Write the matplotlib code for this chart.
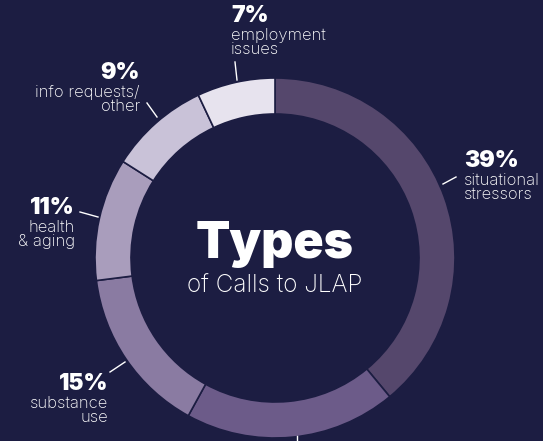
import matplotlib.pyplot as plt

# ----------------------------------------------------------
# Data
# ----------------------------------------------------------
shares = [39, 19, 15, 11, 9, 7]
pct_labels = ["39%", "19%", "15%", "11%", "9%", "7%"]
desc_labels = ["situational\nstressors", "", "substance\nuse",
               "health\n& aging", "info requests/\nother", "employment\nissues"]
colors = ["#55476c", "#6c5b89", "#8a7ba2", "#a99dbc", "#c9c2d8", "#e7e3ee"]

BG = "#1c1d42"
W, H = 543, 441

fig = plt.figure(figsize=(W / 100, H / 100), dpi=100, facecolor=BG)
ax = fig.add_axes([0, 0, 1, 1])
ax.set_facecolor(BG)

cx, cy, r_out, ring = 275, H - 258, 180, 36

ax.pie(shares, colors=colors, startangle=90, counterclock=False,
       center=(cx, cy), radius=r_out, frame=True,
       wedgeprops=dict(width=ring, edgecolor=BG, linewidth=1.2))
ax.set_xlim(0, W)
ax.set_ylim(0, H)
ax.set_aspect("equal")
ax.axis("off")


def Y(y):
    return H - y


# label positions (x, top y, alignment) and leader lines
label_pos = {
    0: (464, 150, "left"),
    2: (108, 373, "right"),
    3: (75, 197, "right"),
    4: (140, 62, "right"),
    5: (231, 5, "left"),
}
leaders = {
    0: [(443, 184), (456, 177)],
    1: [(297, 436), (297, 445)],
    2: [(110, 372), (125, 362)],
    3: [(80, 212), (98, 217)],
    4: [(147, 103), (157, 117)],
    5: [(235, 62), (237, 80)],
}

for i, (x, y, ha) in label_pos.items():
    ax.text(x, Y(y), pct_labels[i], ha=ha, va="top", color="white",
            fontsize=16.5, fontweight="black", family="Inter")
    ax.text(x, Y(y + 23), desc_labels[i], ha=ha, va="top", color="white",
            fontsize=12, fontweight="light", family="Inter", linespacing=0.88)

for i, pts in leaders.items():
    (x0, y0), (x1, y1) = pts
    ax.plot([x0, x1], [Y(y0), Y(y1)], color="white", lw=1)

ax.text(cx, Y(244), "Types", ha="center", va="center", color="white",
        fontsize=36, fontweight="black", family="Inter")
ax.text(cx, Y(286), "of Calls to JLAP", ha="center", va="center", color="white",
        fontsize=17.5, fontweight="light", family="Inter")

fig.savefig("out.png", dpi=100, facecolor=BG)
